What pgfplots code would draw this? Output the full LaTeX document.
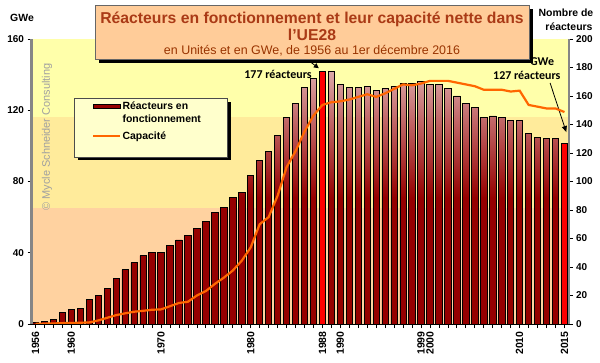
\documentclass[border=0pt]{standalone}
\usepackage{fontspec}
\setmainfont{Liberation Sans}
\newfontfamily\calibri{Carlito}
\usepackage{pgfplots}
\pgfplotsset{compat=1.18}
\usepackage{pgfplotstable}
\usetikzlibrary{arrows.meta}

\definecolor{bgtop}{RGB}{255,255,170}
\definecolor{bgmid}{RGB}{255,235,155}
\definecolor{bgbot}{RGB}{255,210,160}
\definecolor{barpink}{RGB}{220,168,168}
\definecolor{bardark}{RGB}{150,0,0}
\definecolor{capline}{RGB}{255,102,0}
\definecolor{titlebox}{RGB}{255,204,153}
\definecolor{titletext}{RGB}{170,58,22}
\definecolor{subtext}{RGB}{153,51,0}
\definecolor{legfill}{RGB}{255,255,204}
\definecolor{axgray}{RGB}{134,134,134}

\pgfplotstableread{
i year r c
0 1956 1 0.1
1 1957 2 0.2
2 1958 3 0.3
3 1959 8 0.5
4 1960 10 0.6
5 1961 11 0.7
6 1962 17 0.9
7 1963 20 2.0
8 1964 25 3.5
9 1965 32 5.0
10 1966 38 6.0
11 1967 43 6.9
12 1968 48 7.4
13 1969 50 8.0
14 1970 50 8.2
15 1971 55 10.0
16 1972 59 11.8
17 1973 62 12.5
18 1974 67 16.0
19 1975 72 18.5
20 1976 78 22.5
21 1977 82 26.0
22 1978 89 30.0
23 1979 92 35.5
24 1980 104 43.0
25 1981 115 56.0
26 1982 121 60.0
27 1983 132 72.0
28 1984 145 88.0
29 1985 155 97.0
30 1986 166 108.0
31 1987 172 117.0
32 1988 177 123.0
33 1989 177 124.5
34 1990 168 125.0
35 1991 166 126.0
36 1992 166 127.5
37 1993 167 129.0
38 1994 164 127.5
39 1995 165 129.5
40 1996 167 132.0
41 1997 169 134.5
42 1998 169 134.0
43 1999 170 135.0
44 2000 168 136.5
45 2001 168 136.5
46 2002 165 136.5
47 2003 160 135.5
48 2004 155 134.5
49 2005 152 133.5
50 2006 145 131.5
51 2007 146 131.5
52 2008 145 131.5
53 2009 143 130.5
54 2010 143 131.0
55 2011 134 123.0
56 2012 131 122.0
57 2013 130 121.0
58 2014 130 121.0
59 2015 127 119.0
}\data

\pgfplotstableread{
i r
32 177
59 127
}\redbars

\begin{document}
\begin{tikzpicture}
\useasboundingbox (0bp,0bp) rectangle (600bp,363bp);

% ---------- bars axis (right, reactors) ----------
\begin{axis}[
  at={(31.5bp,39bp)}, anchor=south west,
  scale only axis, width=537bp, height=285bp,
  xmin=-0.45, xmax=59.45, ymin=0, ymax=200,
  axis x line*=bottom, axis y line*=right,
  axis on top=true,
  ytick={0,20,...,200},
  xtick={0,4,14,24,32,34,43,44,54,59},
  xticklabels={1956,1960,1970,1980,1988,1990,1999,2000,2010,2015},
  minor xtick={0,...,59},
  tick align=outside, major tick length=4bp, minor tick length=4bp,
  tick style={black, line width=0.8bp},
  x axis line style={black, line width=1bp},
  y axis line style={axgray, line width=2bp},
  /pgf/number format/assume math mode=true,
  tick label style={font=\fontsize{10}{12}\selectfont\bfseries},
  xticklabel style={rotate=90, anchor=east, font=\fontsize{10.5}{12}\selectfont\bfseries},
]
\fill[bgbot] (axis cs:-0.45,0) rectangle (axis cs:59.45,81.4);
\fill[bgmid] (axis cs:-0.45,81.4) rectangle (axis cs:59.45,145.5);
\fill[bgtop] (axis cs:-0.45,145.5) rectangle (axis cs:59.45,200);
\node[rotate=90, text={rgb,255:red,160;green,160;blue,160}, font=\fontsize{11}{13}\selectfont] at (axis cs:1.28,131.2) {© Mycle Schneider Consulting};
\addplot[ybar, bar width=6.4bp, bar shift=0pt, draw=black, line width=0.8bp,
  top color=barpink, bottom color=bardark, middle color=bardark]
  table[x=i, y=r] {\data};
\addplot[ybar, bar width=6.4bp, bar shift=0pt, draw=black, line width=0.8bp, fill=red]
  table[x=i, y=r] {\redbars};
\node[font=\calibri\bfseries\fontsize{12}{14}\selectfont] at (axis cs:27.05,175.4) {177 réacteurs};
\draw[-{Triangle[length=5bp,width=5bp]}, line width=0.8bp] (axis cs:30.5,184.6) -- (axis cs:31.6,179.5);
\node[font=\calibri\bfseries\fontsize{12}{14}\selectfont] at (axis cs:54.8,174.7) {127 réacteurs};
\node[font=\calibri\bfseries\fontsize{12}{14}\selectfont] at (axis cs:56.5,183.9) {GWe};
\draw[-{Triangle[length=6bp,width=5bp]}, line width=0.8bp] (axis cs:57.4,169.1) -- (axis cs:59.2,134.7);
\end{axis}

% ---------- legend box ----------
\fill[black] (78bp,203bp) rectangle (231bp,261bp);
\filldraw[fill=legfill, draw=black!70, line width=0.5bp] (74bp,206bp) rectangle (227bp,265bp);

% ---------- capacity axis (left, GWe) ----------
\begin{axis}[
  at={(31.5bp,39bp)}, anchor=south west,
  scale only axis, width=537bp, height=285bp,
  xmin=-0.45, xmax=59.45, ymin=0, ymax=160,
  axis x line=none, axis y line*=left,
  ytick={0,40,...,160},
  tick align=outside, major tick length=4bp,
  tick style={black, line width=0.8bp},
  y axis line style={axgray, line width=2bp},
  /pgf/number format/assume math mode=true,
  tick label style={font=\fontsize{10}{12}\selectfont\bfseries},
  legend cell align=left,
  legend style={at={(0.1127,0.786)}, anchor=north west, draw=none, fill=none,
    inner sep=0pt, row sep=5bp, cells={align=left},
    nodes={inner sep=1.5bp},
    font=\fontsize{10.5}{13}\selectfont\bfseries},
]
\addlegendimage{legend image code/.code={\draw[fill=bardark, draw=black, line width=0.6bp] (0bp,4bp) rectangle (27bp,8bp);}}
\addlegendentry{Réacteurs en\\fonctionnement}
\addplot[capline, line width=2.2bp,
  legend image code/.code={\draw[capline, line width=1.8bp] (0bp,0bp) -- (27bp,0bp);}]
  table[x=i, y=c] {\data};
\addlegendentry{Capacité}
\end{axis}

% ---------- axis titles ----------
\node[font=\fontsize{10.5}{12}\selectfont\bfseries] at (22bp,345bp) {GWe};
\node[font=\fontsize{10.5}{12}\selectfont\bfseries] at (566bp,350bp) {Nombre de};
\node[font=\fontsize{10.5}{12}\selectfont\bfseries] at (569bp,336bp) {réacteurs};

% ---------- title box ----------
\fill[black] (99bp,300bp) rectangle (533bp,354bp);
\filldraw[fill=titlebox, draw=black!60, line width=0.4bp] (95bp,304bp) rectangle (529bp,358bp);
\node[font=\fontsize{15.8}{17}\selectfont\bfseries, text=titletext] at (312bp,344bp) {Réacteurs en fonctionnement et leur capacité nette dans};
\node[font=\fontsize{15.8}{17}\selectfont\bfseries, text=titletext] at (312bp,328bp) {l'UE28};
\node[font=\fontsize{12.5}{14}\selectfont, text=subtext] at (312bp,312bp) {en Unités et en GWe, de 1956 au 1er décembre 2016};
\end{tikzpicture}
\end{document}
